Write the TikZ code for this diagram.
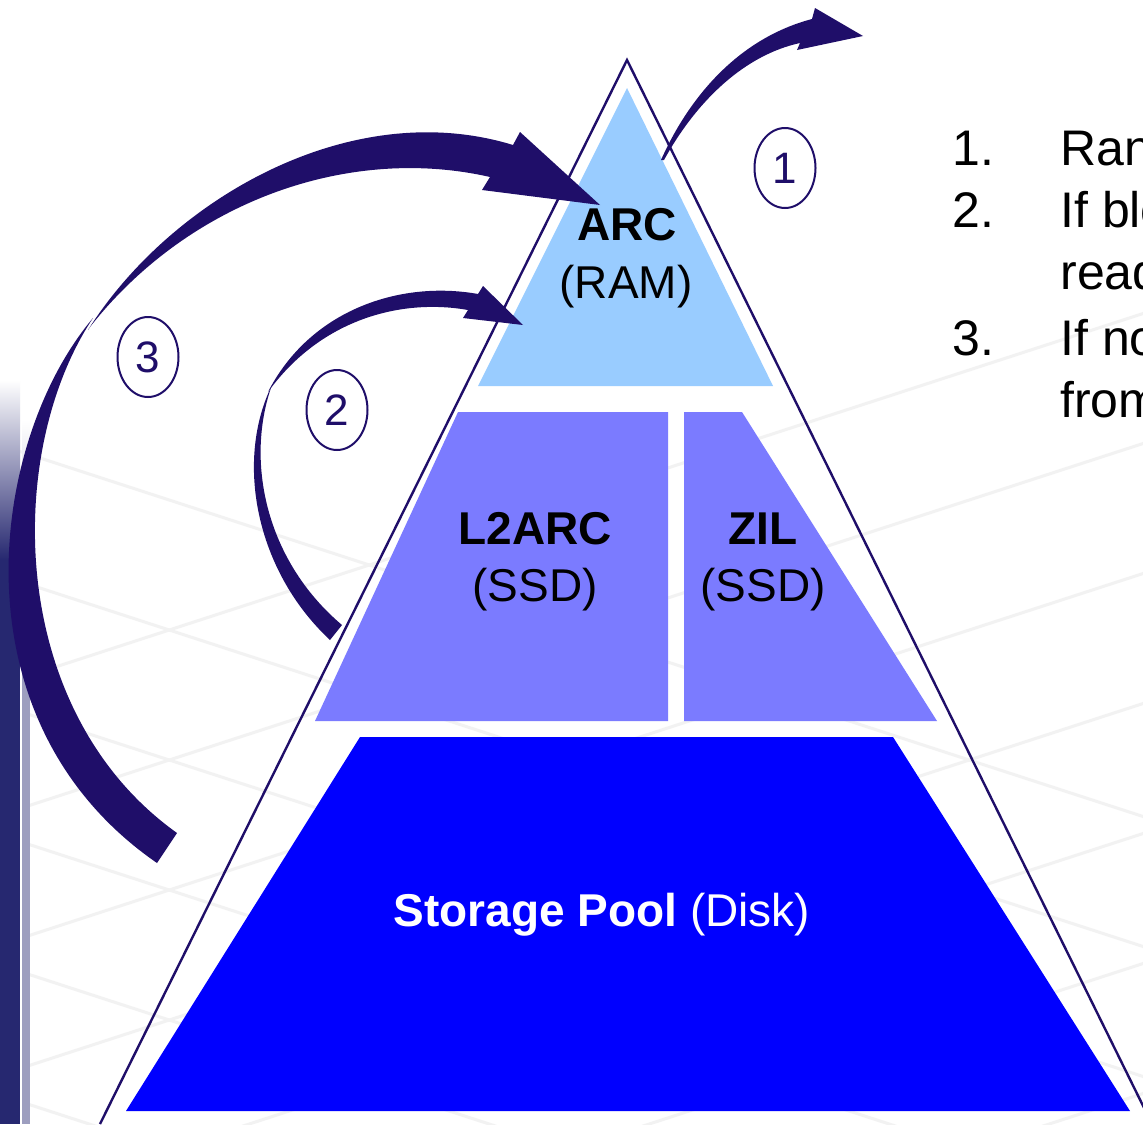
\documentclass[tikz,border=0pt]{standalone}
\usepackage{fontspec}
\setmainfont{Liberation Sans}
\usetikzlibrary{shapes.geometric}
\definecolor{navy}{RGB}{31,14,105}
\definecolor{arcblue}{RGB}{153,204,255}
\definecolor{ssdblue}{RGB}{123,123,255}
\definecolor{diskblue}{RGB}{0,0,255}
\definecolor{band}{RGB}{38,40,112}
\begin{document}
\begin{tikzpicture}[x=0.5pt,y=-0.5pt,
  lbl/.style={font=\fontsize{23}{27}\selectfont, anchor=base, inner sep=0pt},
  lst/.style={font=\fontsize{25}{29}\selectfont, anchor=base west, inner sep=0pt},
  numcirc/.style={ellipse, draw=navy, line width=1pt, text=navy, minimum width=30.5pt, minimum height=40pt, inner sep=0pt, font=\fontsize{22}{26}\selectfont},
  gridline/.style={black!5, line width=1.5pt},
  arrowfill/.style={fill=navy}
]
\useasboundingbox (0,0) rectangle (1143,1124);
\fill[white] (0,0) rectangle (1143,1124);

% faint floor grid
\begin{scope}
\clip (0,0) rectangle (1143,1124);
\foreach \k in {0,...,9} {
  \draw[gridline] (-200,{380+\k*130}) -- (1400,{380+\k*130+520});
  \draw[gridline] (-200,{1400-\k*130+520}) -- (1400,{1400-\k*130});
}
\end{scope}

% left decorative band
\shade[top color=white, bottom color=band] (0,380) rectangle (20,560);
\fill[band] (0,560) rectangle (20,1124);
\shade[top color=white, bottom color=band!45] (22,420) rectangle (30,600);
\fill[band!45] (22,600) rectangle (30,1124);
\fill[white] (20,560) rectangle (22,1124);

% pyramid layers
\fill[arcblue] (627,88) -- (773,386) -- (478,386) -- cycle;
\fill[ssdblue] (458,412) -- (668,412) -- (668,721) -- (315,721) -- cycle;
\fill[ssdblue] (684,412) -- (742,412) -- (937,721) -- (684,721) -- cycle;
\fill[diskblue] (360,737) -- (893,737) -- (1130,1111) -- (126,1111) -- cycle;

% outer triangle
\draw[navy, line width=1.2pt] (100,1124) -- (627,60) -- (1152,1124);

% arrow 1
\fill[arrowfill] (661,160) .. controls (690,95) and (740,38) .. (812,19)
  -- (815,8) -- (863,36) -- (797,50) -- (800,43)
  .. controls (745,55) and (697,100) .. (664,160) -- cycle;

% arrow 2 (upper part with head)
\fill[arrowfill] (268,392) .. controls (310,310) and (400,280) .. (478,294)
  -- (483,286) -- (523,325) -- (463,318) -- (468,310)
  .. controls (400,298) and (320,320) .. (268,392) -- cycle;
% arrow 2 (lower arc)
\fill[arrowfill] (272,385) .. controls (235,460) and (255,570) .. (330,640)
  -- (342,625)
  .. controls (265,560) and (245,460) .. (272,385) -- cycle;

% arrow 3 (upper part with head)
\fill[arrowfill] (88,330) .. controls (170,200) and (350,95) .. (513,145)
  -- (520,132) -- (600,205) -- (482,190) -- (490,177)
  .. controls (350,145) and (190,200) .. (90,327) -- cycle;
% arrow 3 (lower arc)
\fill[arrowfill] (93,318) .. controls (-10,440) and (-50,720) .. (157,863)
  -- (177,833)
  .. controls (5,710) and (5,450) .. (93,318) -- cycle;

% circled numbers
\node[numcirc] (c1) at (785,168) {1};
\node[numcirc] (c2) at (337,410) {2};
\node[numcirc] (c3) at (148,357) {3};

% labels
\node[lbl] (arc) at (627,240) {\textbf{ARC}};
\node[lbl] (ram) at (626,298) {(RAM)};
\node[lbl] (l2arc) at (535,544) {\textbf{L2ARC}};
\node[lbl] (ssd1) at (535,601) {(SSD)};
\node[lbl] (zil) at (763,544) {\textbf{ZIL}};
\node[lbl] (ssd2) at (763,601) {(SSD)};
\node[lbl, text=white] (pool) at (602,926) {\textbf{Storage Pool} (Disk)};

% list on the right (cut by the picture edge, as in the reference)
\begin{scope}
\clip (0,0) rectangle (1143,1124);
\node[lst] (n1) at (952,165) {1.};
\node[lst] (t1) at (1060,165) {Random read};
\node[lst] (n2) at (952,227) {2.};
\node[lst] (t2) at (1060,227) {If block not in ARC,};
\node[lst] (t2b) at (1060,289) {read from L2ARC};
\node[lst] (n3) at (952,355) {3.};
\node[lst] (t3) at (1060,355) {If not in L2ARC, read};
\node[lst] (t3b) at (1060,417) {from disk};
\end{scope}
\end{tikzpicture}
\end{document}
